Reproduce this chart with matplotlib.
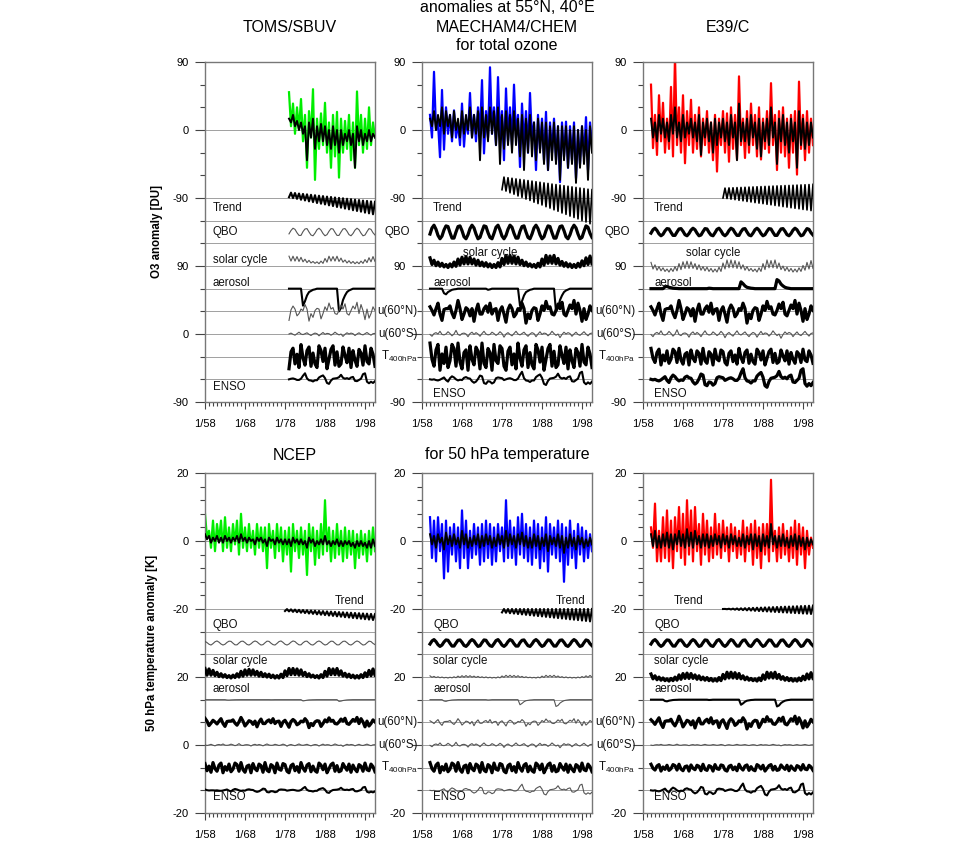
import numpy as np
import matplotlib
matplotlib.use('Agg')
from matplotlib import pyplot as plt
from matplotlib.ticker import MultipleLocator, FixedLocator
import matplotlib.transforms as mtransforms

plt.rcParams['font.family'] = ['Liberation Sans', 'DejaVu Sans']
plt.rcParams['mathtext.fontset'] = 'custom'
plt.rcParams['mathtext.rm'] = 'Liberation Sans'

# all series are semiannual samples (winter, summer) for each year

# ---- total ozone anomalies [DU] ----
toms_obs = [50, 5, 35, -5, 30, 0, 41, -15, 20, -50, 25, -10, 54, -66, 15, -25, 22, -20,
            36, -30, 10, -50, 20, -35, 24, -63, 15, -30, 12, -25, 20, -40, 10, -50,
            51, -20, 20, -30, 15, -25, 30, -20, 10, -10]
toms_fit = [15, 10, 20, 5, 12, 0, 10, -5, 5, -40, 10, -10, 15, -25, 5, -15, 8, -15,
            5, -20, 0, -25, 5, -20, 0, -30, 0, -20, -5, -15, 0, -20, -5, -50,
            5, -15, 0, -20, -5, -15, 0, -15, -5, -10]

mae_obs = [20, -10, 77, 0, 10, -36, 53, -26, 30, -5,
           20, -15, 26, -10, 10, -20, 35, -22, 15, -5,
           49, -10, 20, -15, 30, -5, 66, -31, 25, -10,
           83, -5, 30, -20, 70, -10, 25, -40, 55, -15,
           30, -20, 60, -10, 20, -49, 35, -20, 25, -30,
           49, -15, 10, -53, 20, -25, 15, -40, 24, -53,
           10, -30, 15, -40, 5, -69, 10, -35, 11, -50,
           5, -40, 10, -64, 0, -45, 5, -35, 17, -53,
           10, -20]
mae_fit = [15, 5, 25, 0, 20, 5, 30, -5, 25, 5,
           20, -10, 25, 0, 15, -10, 25, -5, 20, 0,
           30, -10, 20, -5, 25, -40, 30, -10, 20, -15,
           30, -5, 25, -20, 30, -45, 20, -25, 25, -20,
           20, -30, 25, -20, 15, -35, 20, -53, 15, -30,
           20, -35, 10, -40, 15, -30, 10, -45, 10, -53,
           5, -40, 10, -45, 5, -66, 5, -40, 5, -50,
           0, -45, 5, -70, 0, -50, 5, -45, 0, -66,
           5, -30]

e39_obs = [60, -24, 20, -33, 46, -15, 36, -30, 15, -25,
           57, -35, 97, -20, 30, -30, 46, -44, 25, -20,
           40, -30, 20, -25, 30, -35, 15, -20, 25, -30,
           10, -40, 20, -55, 15, -20, 25, -30, 22, -42,
           30, -25, 20, -39, 71, -20, 15, -37, 25, -30,
           35, -20, 20, -35, 30, -39, 15, -25, 25, -30,
           62, -20, 20, -53, 25, -30, 30, -35, 15, -50,
           20, -30, 25, -59, 64, -25, 20, -40, 25, -30,
           15, -20]
e39_fit = [15, -10, 10, -15, 20, -5, 15, -10, 10, -15,
           20, -5, 30, -10, 10, -15, 20, -10, 10, -5,
           15, -10, 10, -15, 20, -33, 10, -10, 15, -15,
           10, -30, 15, -20, 10, -10, 15, -15, 10, -20,
           20, -10, 10, -40, 35, -15, 10, -15, 15, -20,
           20, -10, 10, -25, 15, -35, 10, -15, 15, -20,
           30, -10, 10, -45, 15, -15, 20, -20, 10, -30,
           15, -15, 10, -50, 25, -20, 15, -25, 10, -20,
           10, -10]

# ---- 50 hPa temperature anomalies [K] ----
ncep_obs = [8, 1, 3, -2, 6, -3, 5, 0, 6, -3,
            7, -2, 4, -3, 5, -1, 6, -4, 8, -2,
            4, -3, 5, -2, 3, -4, 5, -2, 4, -3,
            4, -8, 5, -2, 3, -5, 5, -3, 4, -6,
            3, -4, 4, -9, 5, -3, 3, -5, 4, -4,
            3, -10, 5, -3, 4, -7, 3, -5, 5, -4,
            12, -3, 4, -6, 3, -5, 5, -4, 3, -6,
            4, -5, 3, -4, 3, -8, 2, -5, 3, -4,
            2, -6, 3, -4, 4, -3]
ncep_fit = [2, 0.5, 1.5, -0.5, 1, 0, 1.5, -0.5, 1, -0.5,
            1.5, 0, 1, -0.5, 1, 0, 1.5, -0.5, 2, 0,
            1, -0.5, 1, 0, 0.5, -1, 1, 0, 1, -0.5,
            0.5, -1.5, 1, 0, 0.5, -1, 1, -0.5, 0.5, -1,
            0.5, -1, 0.5, -1.5, 1, -0.5, 0.5, -1, 0.5, -1,
            0, -2, 1, -0.5, 0.5, -1.5, 0, -1, 0.5, -1,
            1.5, -1, 0, -1.5, 0, -1, 0.5, -1.5, 0, -1.5,
            0, -1, 0, -1.5, -0.5, -2, 0, -1.5, 0, -1.5,
            -0.5, -2, 0, -2, 0.5, -1.5]

mae_t_obs = [7, -5, 6, -6, 7, -3, 5, -11, 6, -9,
             4, -4, 5, -6, 4, -8, 9, -5, 6, -8,
             3, -5, 5, -4, 4, -7, 5, -6, 6, -5,
             5, -7, 4, -6, 5, -3, 4, -6, 12, -5,
             6, -5, 4, -7, 7, -4, 8, -5, 5, -6,
             4, -7, 6, -5, 5, -8, 4, -6, 7, -9,
             5, -4, 4, -5, 6, -6, 5, -12, 4, -7,
             6, -5, 3, -8, 5, -4, 4, -6, 3, -5,
             2, -3]
mae_t_fit = [2, -1, 1.5, -2, 2, -0.5, 1, -2.5, 2.5, -1,
             1.5, -1.5, 2, -1, 1, -2, 3, -1, 2, -2,
             1, -1.5, 1.5, -1, 2, -2, 1.5, -1.5, 2, -1,
             1.5, -2, 1, -1.5, 2, -1, 1.5, -2, 3, -1.5,
             2, -1, 1.5, -2, 2, -1, 2.5, -1.5, 1.5, -2,
             1, -2, 2, -1.5, 1.5, -2.5, 1, -1.5, 2, -3,
             1.5, -1, 1, -1.5, 2, -2, 1.5, -3.5, 1, -2,
             2, -1.5, 1, -2.5, 1.5, -1, 1, -2, 0.5, -1.5,
             1, -1]

e39_t_obs = [4, -2, 11, -6, 3, -6, 7, -5, 9, -6,
             6, -8, 7, -3, 10, -5, 8, -7, 12, -4,
             9, -6, 10, -3, 5, -7, 8, -4, 6, -6,
             4, -5, 8, -4, 5, -5, 6, -3, 4, -6,
             5, -3, 4, -5, 3, -4, 6, -6, 4, -3,
             5, -7, 6, -5, 4, -8, 5, -4, 5, -6,
             18, -3, 3, -6, 4, -5, 5, -4, 3, -6,
             4, -5, 6, -7, 5, -4, 4, -8, 3, -4,
             1, -2]
e39_t_fit = [2, -1.5, 3, -2, 1.5, -2, 2, -1.5, 2.5, -2,
             2, -2.5, 2, -1, 3, -1.5, 2, -2, 3.5, -1.5,
             2.5, -2, 3, -1, 1.5, -2, 2, -1.5, 2, -2,
             1.5, -1.5, 2, -1, 1.5, -2, 2, -1, 1.5, -2,
             2, -1, 1.5, -1.5, 1, -1.5, 2, -2, 1.5, -1,
             2, -2.5, 2, -1.5, 1.5, -3, 2, -1.5, 1.5, -2,
             5, -1, 1.5, -2, 1.5, -1.5, 2, -1.5, 1, -2,
             1.5, -1.5, 2, -2.5, 1.5, -1.5, 1, -2.5, 1, -1.5,
             0.5, -1]

# ---- regression proxies, 1958-2000 (normalised) ----
qbo_idx = [0.8, 0.2, -0.6, -1.0, -0.3, 0.6, 1.0, 0.4, -0.5, -1.0,
           -0.6, 0.3, 0.9, 0.8, -0.1, -0.9, -0.9, 0.0, 0.8, 0.9,
           0.2, -0.7, -1.0, -0.4, 0.5, 1.0, 0.6, -0.3, -1.0, -0.8,
           0.1, 0.9, 0.8, -0.1, -0.8, -1.0, -0.2, 0.7, 1.0, 0.3,
           -0.6, -1.0, -0.5, 0.4, 1.0, 0.7, -0.2, -0.9, -0.9, 0.1,
           0.8, 0.9, 0.0, -0.8, -1.0, -0.3, 0.6, 1.0, 0.5, -0.4,
           -1.0, -0.7, 0.2, 0.9, 0.8, -0.1, -0.9, -0.9, 0.0, 0.8,
           0.9, 0.2, -0.7, -1.0, -0.4, 0.5, 1.0, 0.6, -0.3, -1.0,
           -0.8, 0.1, 0.9, 0.7, -0.2, -0.8]
solar_idx = [1.0, 0.3, 0.95, 0.3, 0.8, 0.25, 0.6, 0.15, 0.45, 0.1,
             0.35, 0.05, 0.25, 0.0, 0.3, 0.05, 0.45, 0.1, 0.7, 0.2,
             0.85, 0.3, 0.9, 0.3, 0.85, 0.3, 0.7, 0.2, 0.6, 0.15,
             0.45, 0.1, 0.4, 0.05, 0.3, 0.0, 0.25, 0.0, 0.4, 0.05,
             0.75, 0.25, 1.0, 0.35, 1.0, 0.35, 0.95, 0.3, 0.85, 0.25,
             0.6, 0.15, 0.45, 0.1, 0.3, 0.05, 0.25, 0.0, 0.35, 0.05,
             0.7, 0.2, 1.0, 0.35, 0.95, 0.35, 1.0, 0.3, 0.75, 0.2,
             0.5, 0.1, 0.4, 0.05, 0.3, 0.0, 0.25, 0.0, 0.35, 0.05,
             0.55, 0.15, 0.8, 0.25, 0.95, 0.3]
aerosol_idx = [0, 0, 0, 0, 0, 0, 0, 0, 0, 0,
               0, -0.2, -0.25, -0.15, -0.1, -0.05, -0.03, -0.02, 0, 0,
               0, 0, 0, 0, 0, 0, 0, 0, 0, 0,
               0, 0, 0, -0.05, -0.03, 0, 0, 0, 0, 0,
               0, 0, 0, 0, 0, 0, 0, 0, 0, -0.75,
               -0.55, -0.3, -0.15, -0.1, -0.05, -0.03, 0, 0, 0, 0,
               0, 0, 0, 0, 0, 0, 0, -1.0, -0.85, -0.5,
               -0.3, -0.15, -0.08, -0.04, 0, 0, 0, 0, 0, 0,
               0, 0, 0, 0, 0, 0]
u60n_idx = [1.0, 0.3, -0.8, -0.2, 0.5, 0.1, -0.4, 0.3, 0.9, -0.3,
            -1.0, 0.2, 0.3, 0.3, 0.6, -0.2, -0.7, 0.1, 1.2, 0.3,
            -0.9, -0.3, 0.4, 0.2, -0.5, 0.3, -1.1, 0.1, 0.8, -0.3,
            -0.3, 0.3, 0.6, -0.1, 0.9, -0.3, 0.2, 0.3, -1.0, 0.1,
            0.5, -0.3, -1.2, 0.2, 0.7, 0.3, -0.6, -0.3, 0.3, 0.1,
            0.9, 0.3, -1.3, -0.3, -0.8, 0.1, 0.4, 0.3, -1.0, -0.3,
            0.6, 0.1, 1.1, 0.3, 0.5, -0.3, -0.4, 0.1, 0.8, 0.3,
            1.0, -0.3, -0.5, 0.1, 0.7, 0.3, 1.2, -0.3, 0.9, 0.1,
            -1.1, 0.3, -0.9, -0.3, 0.6, 0.1]
u60s_idx = [0.1, -0.3, 0.0, 0.4, -0.1, -0.5, 0.1, 0.3, 0.0, 0.6,
            -0.1, -0.2, 0.0, 0.5, 0.1, -0.4, 0.0, 0.8, -0.1, -0.3,
            0.1, 0.2, 0.0, -0.6, 0.1, 0.4, -0.1, 0.3, 0.0, -0.5,
            0.1, 0.6, 0.0, -0.2, -0.1, 0.4, 0.1, -0.3, 0.0, 0.5,
            0.1, -0.7, 0.0, 0.3, -0.1, -0.4, 0.1, 0.6, 0.0, -0.2,
            0.1, 0.4, -0.1, -0.5, 0.0, 0.3, 0.1, -0.6, 0.0, 0.5,
            -0.1, 0.2, 0.1, -0.4, 0.0, 0.6, 0.1, -0.3, 0.0, -0.8,
            -0.1, 0.4, 0.0, 0.3, 0.1, -0.5, 0.0, 0.4, -0.1, -0.3,
            0.1, 0.5, 0.0, -0.4, 0.1, 0.2]
t400_idx = [0.8, -0.6, 0.3, -0.9, 1.0, -0.2, -0.7, 0.5, 0.9, -1.0,
            0.2, -0.5, 0.7, -0.8, -0.3, 0.9, 0.6, -0.7, 1.0, -0.4,
            -0.9, 0.3, 0.5, -1.0, 0.8, -0.2, -0.6, 0.7, 0.4, -0.9,
            1.0, -0.5, -0.8, 0.6, 0.3, -1.0, 0.9, -0.3, -0.5, 0.8,
            0.6, -0.7, -1.0, 0.4, 0.7, -0.6, 0.2, -0.9, 1.0, -0.1,
            -0.7, 0.5, 0.8, -0.8, 0.3, -0.6, -0.9, 0.9, 0.5, -0.4,
            0.7, -1.0, -0.2, 0.6, 0.9, -0.7, 0.4, -0.8, -0.6, 0.8,
            0.1, -0.5, 0.7, -0.9, 0.5, -0.3, -0.8, 0.6, 0.3, -0.7,
            0.9, -0.4, -0.6, 0.7, 0.2, -0.8]
enso_idx = [0.5, 0.1, -0.1, 0.0, 0.0, -0.1, 0.0, -0.2, -0.3, -0.1,
            0.2, 0.5, -0.2, -0.6, 0.3, 0.8, 0.5, 0.0, -0.3, -0.1,
            -0.2, 0.4, 0.6, 0.3, 0.2, -0.5, -0.9, -0.6, 0.1, 1.0,
            0.8, -1.0, -1.2, -0.5, -0.6, -1.1, -0.8, 0.3, 0.5, 0.4,
            0.3, -0.2, 0.0, 0.2, 0.3, 0.1, -0.2, -0.2, 0.2, 1.2,
            2.0, 0.3, -0.3, -0.4, -0.7, -0.3, -0.3, 0.6, 1.0, 1.3,
            0.4, -1.2, -1.5, -0.4, 0.2, 0.3, 0.4, 0.7, 1.5, 0.5,
            0.2, 0.4, 0.1, 0.6, 0.8, -0.5, -0.6, -0.2, 0.2, 1.7,
            2.0, -0.8, -1.3, -0.8, -1.2, -0.6]
# linear trend regressor from 1978 to 2000 (0..1)
trend_ramp = [0, .02, .04, .07, .09, .11, .13, .16, .18, .2, .22, .24, .27, .29, .31,
              .33, .36, .38, .4, .42, .44, .47, .49, .51, .53, .56, .58, .6, .62, .64,
              .67, .69, .71, .73, .76, .78, .8, .82, .84, .87, .89, .91, .93, .96, .98, 1.0]

proxies = {'qbo': qbo_idx, 'solar': solar_idx, 'aerosol': aerosol_idx,
           'u60n': u60n_idx, 'u60s': u60s_idx, 't400': t400_idx, 'enso': enso_idx}

# regression coefficients per panel; trend = (upper start, upper end, lower start, lower end)
coef = {
    'TOMS': dict(qbo=5, solar=10, solar0=3, aerosol=30, u60n=10, u60s=4, t400=16, enso=4,
                 trend=(8, -5, 2, -22)),
    'MAE_O3': dict(qbo=9, solar=16, solar0=-2, aerosol=30, u60n=12, u60s=6, t400=18, enso=5,
                   trend=(28, 11, 11, -35)),
    'E39_O3': dict(qbo=5, solar=16, solar0=-8, aerosol=-12, u60n=12, u60s=7, t400=11, enso=7,
                   trend=(13, 18, 0, -17)),
    'NCEP': dict(qbo=0.6, solar=2.8, solar0=-0.3, aerosol=0.5, u60n=1.2, u60s=0.5, t400=1.5,
                 enso=0.5, trend=(0, -1.5, -0.6, -3.3)),
    'MAE_T': dict(qbo=1.0, solar=0.8, solar0=-0.3, aerosol=2, u60n=0.9, u60s=1.0, t400=1.5,
                  enso=0.9, trend=(0, 0, -1, -3.7)),
    'E39_T': dict(qbo=1.0, solar=2.6, solar0=-1.2, aerosol=2, u60n=1.5, u60s=0.3, t400=1.0,
                  enso=1.0, trend=(0, 1, 0, -1.5)),
}

BLK = (2.3, 'black')
MED = (1.5, 'black')
SAW = (1.2, 'black')
THN = (0.8, '#555555')
styles = {
    'TOMS': dict(trend=MED, qbo=THN, solar=THN, aerosol=MED, u60n=THN, u60s=THN, t400=BLK, enso=MED),
    'MAE_O3': dict(trend=SAW, qbo=BLK, solar=BLK, aerosol=MED, u60n=BLK, u60s=THN, t400=BLK, enso=MED),
    'E39_O3': dict(trend=SAW, qbo=BLK, solar=THN, aerosol=BLK, u60n=BLK, u60s=THN, t400=BLK, enso=BLK),
    'NCEP': dict(trend=MED, qbo=THN, solar=BLK, aerosol=THN, u60n=BLK, u60s=THN, t400=BLK, enso=MED),
    'MAE_T': dict(trend=MED, qbo=BLK, solar=THN, aerosol=THN, u60n=THN, u60s=THN, t400=BLK, enso=THN),
    'E39_T': dict(trend=MED, qbo=BLK, solar=BLK, aerosol=MED, u60n=BLK, u60s=THN, t400=BLK, enso=MED),
}

slots = {'qbo': 7.5, 'solar': 9, 'aerosol': 10, 'u60n': 11, 'u60s': 12, 't400': 13, 'enso': 14}

W, H = 960, 842
fig = plt.figure(figsize=(W / 100, H / 100), dpi=100)


def add_axes(x0, y0):
    return fig.add_axes([x0 / W, 1 - (y0 + 340) / H, 170 / W, 340 / H])


def semiannual(start, n):
    return start + 0.5 * np.arange(n)


def draw_panel(ax, key, ylim, obs, fit, start, color, trend_start, hide_zero=False):
    lo, hi = ylim
    u = (hi - lo) / 15.0
    for k in [3, 6, 7, 8, 9, 10, 11, 12, 13, 14]:
        ax.axhline(hi - k * u, color='#a0a0a0', lw=0.7, zorder=0)

    ax.plot(semiannual(start, len(obs)), obs, color=color, lw=1.6, zorder=2)
    ax.plot(semiannual(start, len(fit)), fit, color='black', lw=1.4, zorder=3)

    c = coef[key]
    st = styles[key]
    i0 = int(round((start - 1958) * 2))
    for name, slot in slots.items():
        vals = np.array(proxies[name][i0:], dtype=float) * c[name]
        if name == 'solar':
            vals = vals + c['solar0']
        lw, col = st[name]
        ax.plot(semiannual(start, len(vals)), hi - slot * u + vals,
                color=col, lw=lw, zorder=3)

    j0 = int(round((trend_start - 1978) * 2))
    r = np.array(trend_ramp[j0:])
    hs, he, ls, le = c['trend']
    tv = hs + (he - hs) * r
    tv[::2] = (ls + (le - ls) * r)[::2]
    lw, col = st['trend']
    ax.plot(semiannual(trend_start, len(tv)), hi - 6 * u + tv, color=col, lw=lw, zorder=3)

    # axes cosmetics
    ax.set_xlim(1958, 2000.5)
    ax.set_ylim(lo, hi)
    ax.set_xticks([1958, 1968, 1978, 1988, 1998])
    ax.set_xticklabels(['1/58', '1/68', '1/78', '1/88', '1/98'], fontsize=8)
    ax.xaxis.set_minor_locator(MultipleLocator(1))
    majors = [hi - 3 * u * i for i in range(6)]
    ax.set_yticks(majors)
    lab = [f'{int(round(v))}' for v in majors[:3]] * 2
    if hide_zero:
        lab[4] = ''
    ax.set_yticklabels(lab, fontsize=8)
    if hi > 50:
        ax.yaxis.set_minor_locator(MultipleLocator(30))
    else:
        minors = [16, 12, 8, 4, -4, -8, -12, -16] + [hi - k * u for k in (7, 8, 10, 11, 13, 14)]
        ax.yaxis.set_minor_locator(FixedLocator(minors))
    ax.tick_params(axis='y', which='major', direction='out', length=7, width=0.8,
                   color='#444444', pad=5)
    ax.tick_params(axis='y', which='minor', direction='out', length=3.5, width=0.8,
                   color='#444444')
    ax.tick_params(axis='x', which='major', direction='out', length=5, width=0.8,
                   color='#444444', pad=7)
    ax.tick_params(axis='x', which='minor', direction='out', length=3, width=0.8,
                   color='#444444')
    for s in ax.spines.values():
        s.set_color('#777777')
        s.set_linewidth(1.0)
    return u


def label(ax, x, k, text, u, hi, ha='left'):
    tr = mtransforms.blended_transform_factory(ax.transAxes, ax.transData)
    ax.text(x, hi - k * u, text, transform=tr, ha=ha, va='center', fontsize=8.3,
            color='#111111', clip_on=False)


T400 = r'T$_{\mathrm{400hPa}}$'

# ---------- top row: total ozone ----------
ax1 = add_axes(205, 62)
u = draw_panel(ax1, 'TOMS', (-360, 90), toms_obs, toms_fit, 1979, '#00ee00', 1979)
label(ax1, 0.047, 6.44, 'Trend', u, 90)
label(ax1, 0.047, 7.5, 'QBO', u, 90)
label(ax1, 0.047, 8.73, 'solar cycle', u, 90)
label(ax1, 0.047, 9.75, 'aerosol', u, 90)
label(ax1, 0.047, 14.33, 'ENSO', u, 90)

ax2 = add_axes(422, 62)
u = draw_panel(ax2, 'MAE_O3', (-360, 90), mae_obs, mae_fit, 1960, '#0000ff', 1978, True)
label(ax2, 0.065, 6.44, 'Trend', u, 90)
label(ax2, -0.07, 7.5, 'QBO', u, 90, ha='right')
label(ax2, 0.40, 8.43, 'solar cycle', u, 90, ha='center')
label(ax2, 0.065, 9.75, 'aerosol', u, 90)
label(ax2, -0.025, 11, 'u(60°N)', u, 90, ha='right')
label(ax2, -0.025, 12, 'u(60°S)', u, 90, ha='right')
label(ax2, -0.025, 13, T400, u, 90, ha='right')
label(ax2, 0.065, 14.65, 'ENSO', u, 90)

ax3 = add_axes(643, 62)
u = draw_panel(ax3, 'E39_O3', (-360, 90), e39_obs, e39_fit, 1960, '#ff0000', 1978, True)
label(ax3, 0.065, 6.44, 'Trend', u, 90)
label(ax3, -0.075, 7.5, 'QBO', u, 90, ha='right')
label(ax3, 0.41, 8.43, 'solar cycle', u, 90, ha='center')
label(ax3, 0.065, 9.75, 'aerosol', u, 90)
label(ax3, -0.045, 11, 'u(60°N)', u, 90, ha='right')
label(ax3, -0.045, 12, 'u(60°S)', u, 90, ha='right')
label(ax3, -0.045, 13, T400, u, 90, ha='right')
label(ax3, 0.065, 14.65, 'ENSO', u, 90)

# ---------- bottom row: 50 hPa temperature ----------
ax4 = add_axes(205, 473)
u = draw_panel(ax4, 'NCEP', (-80, 20), ncep_obs, ncep_fit, 1958, '#00ee00', 1978)
label(ax4, 0.94, 5.65, 'Trend', u, 20, ha='right')
label(ax4, 0.047, 6.7, 'QBO', u, 20)
label(ax4, 0.047, 8.3, 'solar cycle', u, 20)
label(ax4, 0.047, 9.53, 'aerosol', u, 20)
label(ax4, 0.047, 14.3, 'ENSO', u, 20)

ax5 = add_axes(422, 473)
u = draw_panel(ax5, 'MAE_T', (-80, 20), mae_t_obs, mae_t_fit, 1960, '#0000ff', 1978, True)
label(ax5, 0.96, 5.65, 'Trend', u, 20, ha='right')
label(ax5, 0.065, 6.7, 'QBO', u, 20)
label(ax5, 0.065, 8.3, 'solar cycle', u, 20)
label(ax5, 0.065, 9.53, 'aerosol', u, 20)
label(ax5, -0.025, 11, 'u(60°N)', u, 20, ha='right')
label(ax5, -0.025, 12, 'u(60°S)', u, 20, ha='right')
label(ax5, -0.025, 13, T400, u, 20, ha='right')
label(ax5, 0.065, 14.3, 'ENSO', u, 20)

ax6 = add_axes(643, 473)
u = draw_panel(ax6, 'E39_T', (-80, 20), e39_t_obs, e39_t_fit, 1960, '#ff0000', 1978, True)
label(ax6, 0.18, 5.65, 'Trend', u, 20)
label(ax6, 0.065, 6.7, 'QBO', u, 20)
label(ax6, 0.065, 8.3, 'solar cycle', u, 20)
label(ax6, 0.065, 9.53, 'aerosol', u, 20)
label(ax6, -0.045, 11, 'u(60°N)', u, 20, ha='right')
label(ax6, -0.045, 12, 'u(60°S)', u, 20, ha='right')
label(ax6, -0.045, 13, T400, u, 20, ha='right')
label(ax6, 0.065, 14.3, 'ENSO', u, 20)

# ---------- titles ----------
def ftext(x, y, s, **kw):
    fig.text(x / W, 1 - y / H, s, ha='center', va='center', **kw)

ftext(290, 27, 'TOMS/SBUV', fontsize=11.5)
ftext(507, 8, 'anomalies at 55°N, 40°E', fontsize=11.5)
ftext(507, 27, 'MAECHAM4/CHEM', fontsize=11.5)
ftext(507, 45, 'for total ozone', fontsize=11.5)
ftext(728, 27, 'E39/C', fontsize=11.5)
ftext(295, 455, 'NCEP', fontsize=11.5)
ftext(507, 455, 'for 50 hPa temperature', fontsize=11.5)
ftext(157, 232, 'O3 anomaly [DU]', fontsize=8.3, fontweight='bold', rotation=90)
ftext(152, 643, '50 hPa temperature anomaly [K]', fontsize=8.3, fontweight='bold',
      rotation=90)

fig.savefig('out.png', dpi=100, facecolor='white')
